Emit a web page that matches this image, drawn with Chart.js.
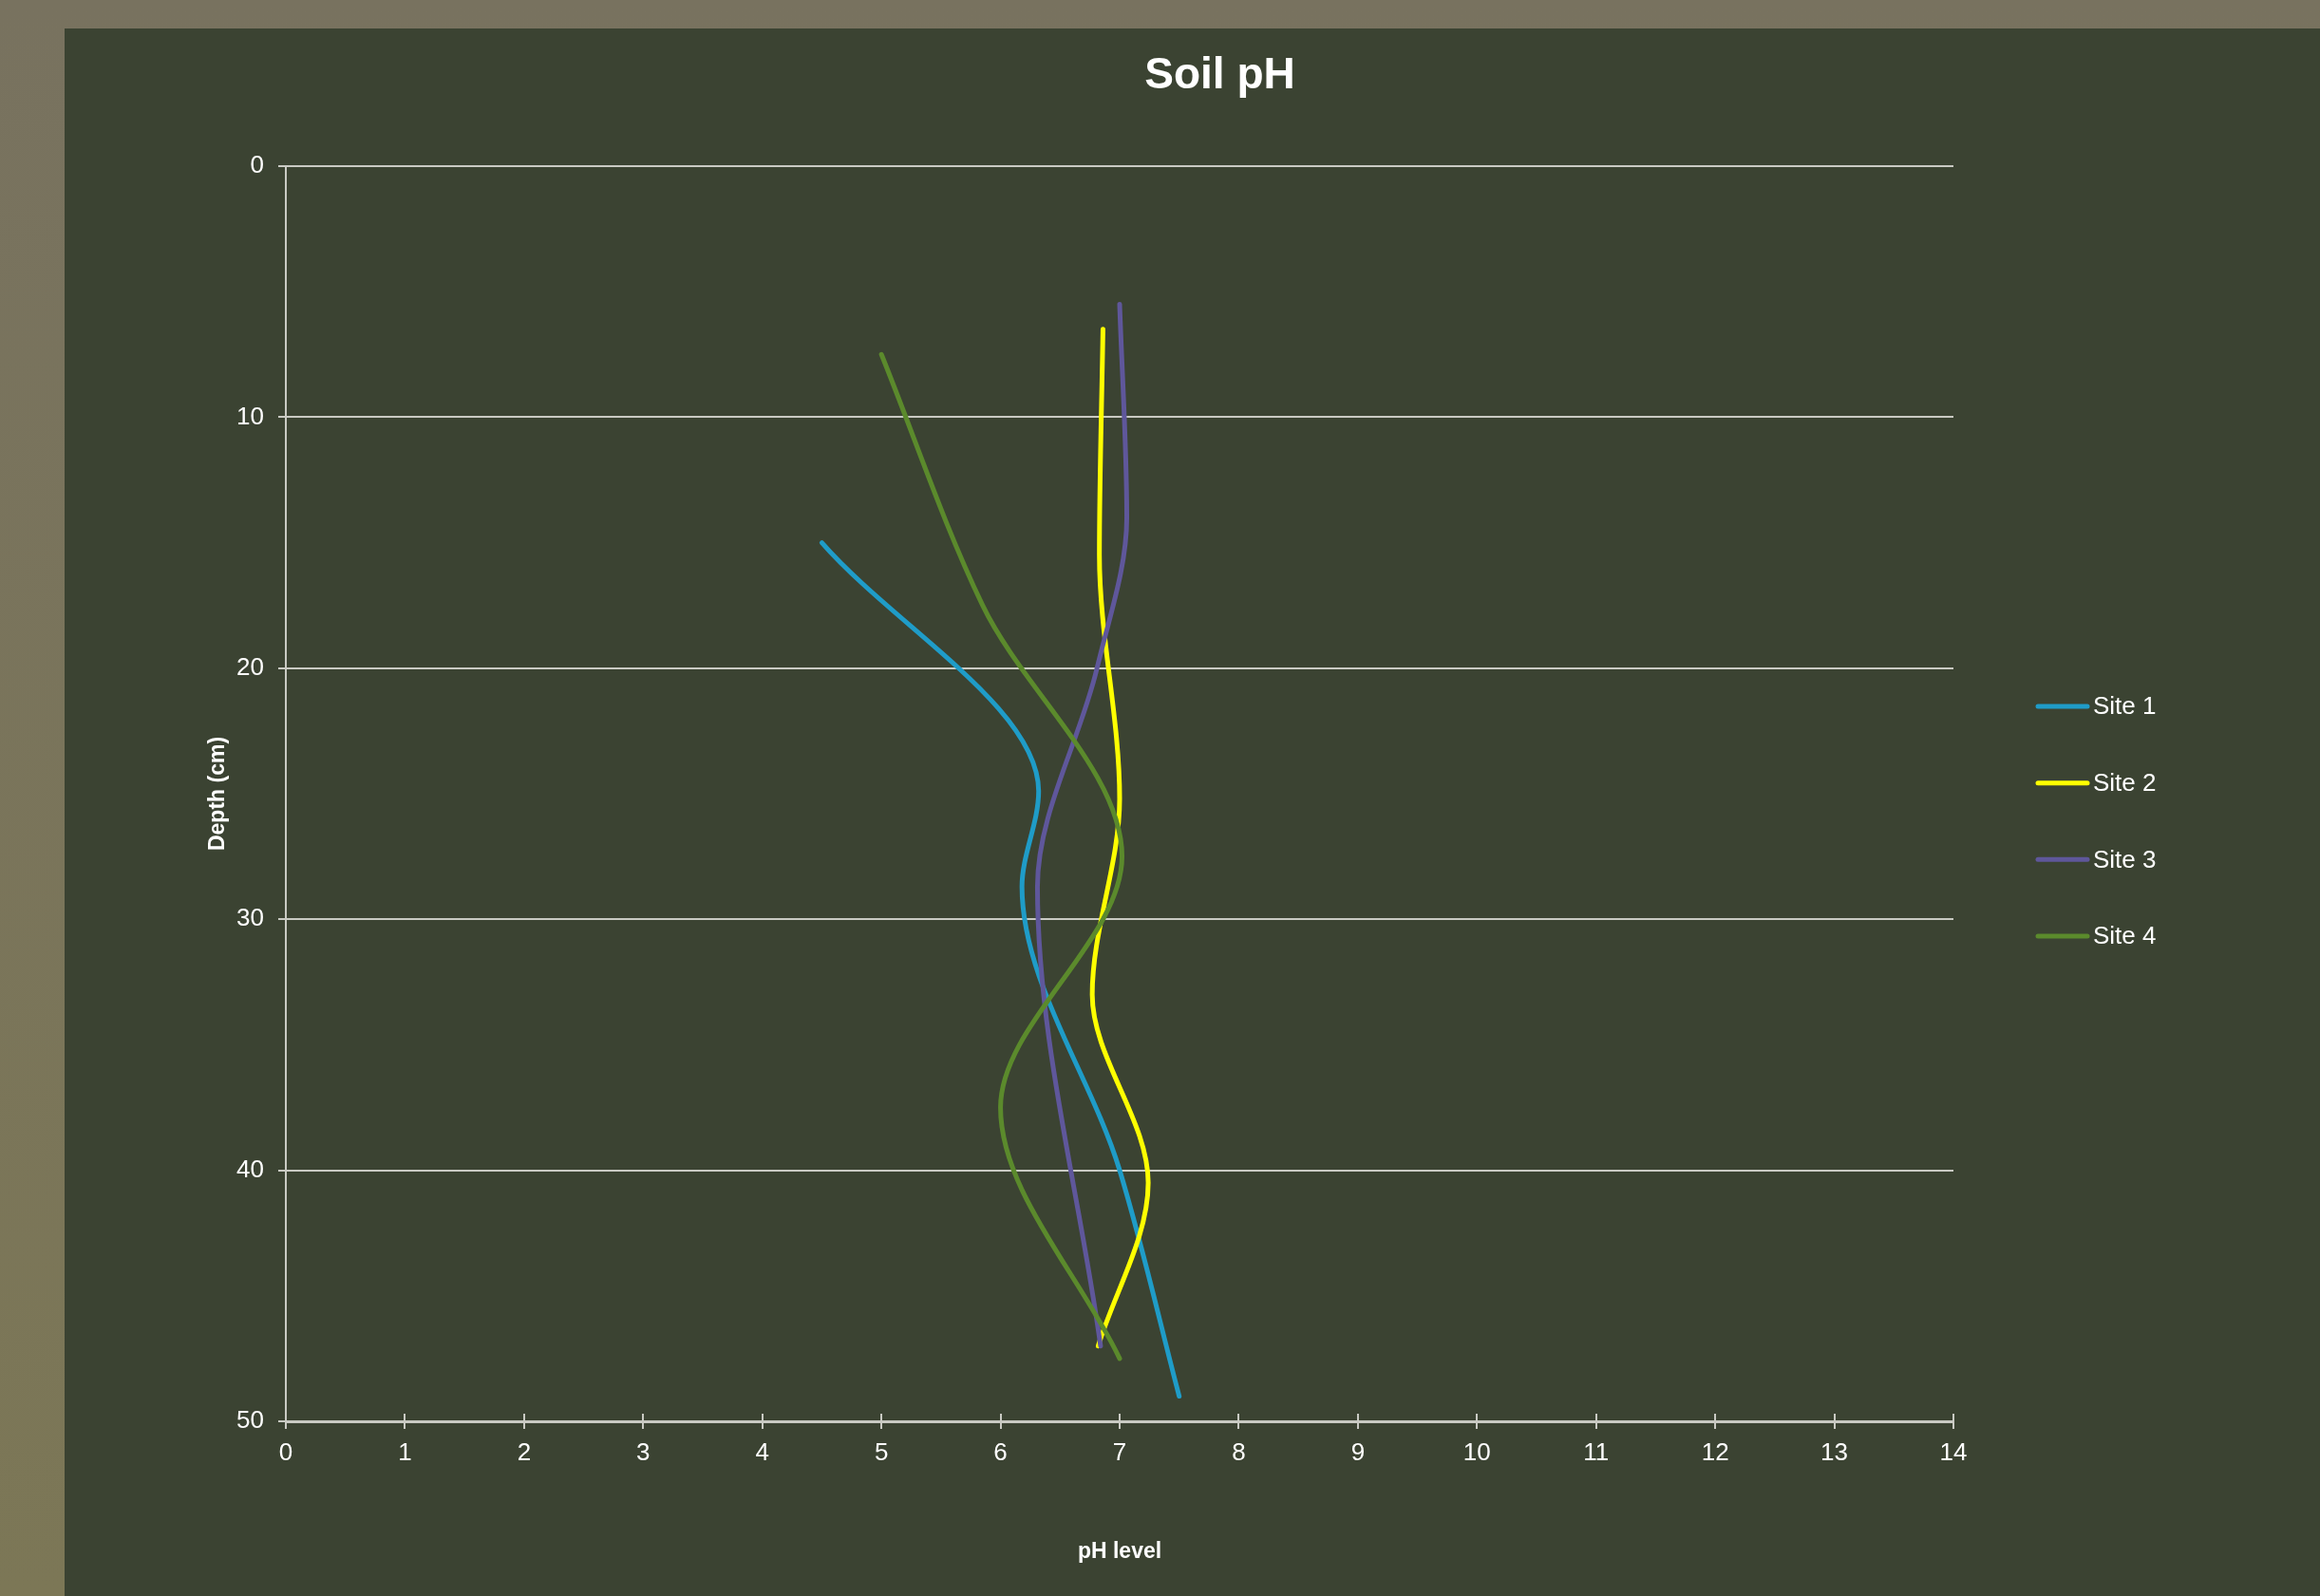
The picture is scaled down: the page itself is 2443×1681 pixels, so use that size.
<!DOCTYPE html>
<html>
<head>
<meta charset="utf-8">
<script src="https://cdn.jsdelivr.net/npm/chart.js@4"></script>
<style>
  html, body { margin: 0; padding: 0; overflow: hidden; }
  body { width: 2443px; height: 1681px; background: linear-gradient(to bottom, #78725f, #7c7756); }
  #panel { position: absolute; left: 68px; top: 30px; width: 2375px; height: 1651px; background: #3b4332; }
</style>
</head>
<body>
<div id="panel"><canvas id="phChart"></canvas></div>
<script>
// ===== DATA =====
const siteNames = ['Site 1', 'Site 2', 'Site 3', 'Site 4'];
const siteColors = ['#1f9cc8', '#ffff00', '#5f579b', '#5b8a2c'];

const site1Ph    = [4.5, 6.32, 6.18, 7.0, 7.5];
const site1Depth = [15, 24.9, 28.7, 40, 49];

const site2Ph    = [6.86, 6.83, 7.0, 6.77, 7.24, 6.82];
const site2Depth = [6.5, 15.5, 25.2, 33, 40.5, 47];

const site3Ph    = [7.0, 7.06, 6.81, 6.31, 6.84];
const site3Depth = [5.5, 14, 20, 28.7, 47];

const site4Ph    = [5.0, 5.85, 7.02, 6.0, 7.0];
const site4Depth = [7.5, 17.5, 27.5, 37.5, 47.5];

const phTicks = [0, 14, 1];     // min, max, step
const depthTicks = [0, 50, 10]; // min, max, step

const sitePh = [site1Ph, site2Ph, site3Ph, site4Ph];
const siteDepth = [site1Depth, site2Depth, site3Depth, site4Depth];

const gridColor = '#c9cac3';
const textColor = '#ffffff';
const font = 'Liberation Sans, Arial, sans-serif';

// ===== PLUGINS =====
// x axis ticks cross the axis line: draw the part above it
const innerTicks = {
  id: 'innerTicks',
  afterDraw(chart) {
    const x = chart.scales.x, ctx = chart.ctx, b = chart.chartArea.bottom;
    ctx.save();
    ctx.strokeStyle = gridColor;
    ctx.lineWidth = 2;
    x.ticks.forEach(t => {
      const px = Math.round(x.getPixelForValue(t.value));
      ctx.beginPath();
      ctx.moveTo(px, b - 8);
      ctx.lineTo(px, b);
      ctx.stroke();
    });
    ctx.restore();
  }
};

// legend as its own layout box on the right
const sideLegend = {
  id: 'sideLegend',
  beforeInit(chart) {
    const box = {
      position: 'right', weight: 100, fullSize: false,
      options: { stackWeight: 1 },
      left: 0, top: 0, right: 0, bottom: 0, width: 0, height: 0,
      isHorizontal() { return false; },
      update(maxWidth, maxHeight) { this.width = 386; this.height = maxHeight; },
      draw() {
        const ctx = chart.ctx;
        const cy = (this.top + this.bottom) / 2 + 29;
        ctx.save();
        ctx.font = '26px ' + font;
        ctx.textBaseline = 'middle';
        ctx.textAlign = 'left';
        ctx.lineCap = 'round';
        chart.data.datasets.forEach((ds, i) => {
          const y = cy + (i - 1.5) * 80.7;
          ctx.strokeStyle = ds.borderColor;
          ctx.lineWidth = 5;
          ctx.beginPath();
          ctx.moveTo(this.left + 89, y);
          ctx.lineTo(this.left + 141, y);
          ctx.stroke();
          ctx.fillStyle = textColor;
          ctx.fillText(ds.label, this.left + 147, y + 1);
        });
        ctx.restore();
      }
    };
    Chart.layouts.addBox(chart, box);
  }
};

// ===== CHART =====
const datasets = siteNames.map((name, i) => ({
  label: name,
  data: sitePh[i].map((v, j) => ({ x: v, y: siteDepth[i][j] })),
  borderColor: siteColors[i],
  backgroundColor: siteColors[i],
  borderWidth: 5,
  borderCapStyle: 'round',
  pointRadius: 0,
  cubicInterpolationMode: 'monotone',
  order: siteNames.length - i
}));

new Chart(document.getElementById('phChart'), {
  type: 'line',
  data: { datasets },
  plugins: [innerTicks, sideLegend],
  options: {
    indexAxis: 'y',
    responsive: true,
    maintainAspectRatio: false,
    animation: false,
    layout: { padding: { left: 58, right: 0, top: 0, bottom: 0 } },
    plugins: {
      legend: { display: false },
      tooltip: { enabled: false },
      title: {
        display: true,
        text: 'Soil pH',
        color: textColor,
        font: { family: font, size: 46, weight: 'bold' },
        padding: { top: 23, bottom: 66.8 }
      }
    },
    scales: {
      x: {
        type: 'linear',
        min: phTicks[0], max: phTicks[1],
        afterFit: s => { s.height = 184; },
        ticks: { stepSize: phTicks[2], color: textColor, font: { family: font, size: 26 }, padding: 10 },
        grid: { drawOnChartArea: false, color: gridColor, lineWidth: 2, tickLength: 8 },
        border: { color: gridColor, width: 3 },
        title: {
          display: true, text: 'pH level', color: textColor,
          font: { family: font, size: 23, weight: 'bold' },
          padding: { top: 0, bottom: 33 }
        }
      },
      y: {
        type: 'linear',
        reverse: true,
        min: depthTicks[0], max: depthTicks[1],
        afterFit: s => { s.width = 175; },
        ticks: { stepSize: depthTicks[2], color: textColor, font: { family: font, size: 26 }, padding: 15 },
        grid: { color: gridColor, lineWidth: 2, tickLength: 8 },
        border: { color: gridColor, width: 2 },
        title: {
          display: true, text: 'Depth (cm)', color: textColor,
          font: { family: font, size: 23, weight: 'bold' },
          padding: { top: 90, bottom: 0 }
        }
      }
    }
  }
});
</script>
</body>
</html>
